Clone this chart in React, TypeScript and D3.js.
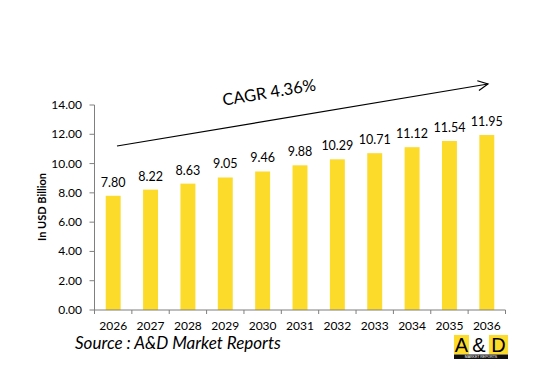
import React from "react";
import * as d3 from "d3";

const years = ["2026", "2027", "2028", "2029", "2030", "2031", "2032", "2033", "2034", "2035", "2036"];
const values = [7.8, 8.22, 8.63, 9.05, 9.46, 9.88, 10.29, 10.71, 11.12, 11.54, 11.95];
const yTicks = [0, 2, 4, 6, 8, 10, 12, 14];
const cagrLabel = "CAGR 4.36%";
const yTitle = "In USD Billion";
const sourceText = "Source : A&D Market Reports";

const W = 536;
const H = 381;
const FONT = "Lato, 'Open Sans', sans-serif";
const YELLOW = "#FDDB2B";

export default function App() {
  const left = 94.5, right = 505.5, top = 105, bottom = 310;
  const x = d3.scaleBand<string>().domain(years).range([left, right]).paddingInner(0.6).paddingOuter(0.3);
  const xb = d3.scaleBand<string>().domain(years).range([left, right]);
  const y = d3.scaleLinear().domain([0, 14]).range([bottom, top]);
  const boundaries = [left, ...years.map((yr) => (xb(yr) as number) + xb.bandwidth())];

  const ax1 = 117, ay1 = 146, ax2 = 488, ay2 = 84;
  const ang = (Math.atan2(ay2 - ay1, ax2 - ax1) * 180) / Math.PI;

  return (
    <svg width={W} height={H} style={{ position: "absolute", left: 0, top: 0, background: "#fff" }} fontFamily={FONT}>
      <rect x={0} y={0} width={W} height={H} fill="#fff" />
      {years.map((yr, i) => (
        <g key={yr}>
          <rect x={x(yr)} y={y(values[i])} width={x.bandwidth()} height={bottom - y(values[i])} fill={YELLOW} />
          <text x={(x(yr) as number) + x.bandwidth() / 2} y={y(values[i]) - 9} textAnchor="middle" fontSize={12.5} fill="#000">
            {values[i].toFixed(2)}
          </text>
          <text x={(xb(yr) as number) + xb.bandwidth() / 2} y={330} textAnchor="middle" fontSize={12} fill="#000">
            {yr}
          </text>
        </g>
      ))}
      <line x1={left} x2={left} y1={top} y2={bottom} stroke="#7f7f7f" strokeWidth={1} />
      {yTicks.map((t) => (
        <g key={t}>
          <line x1={left - 5} x2={left} y1={y(t)} y2={y(t)} stroke="#7f7f7f" />
          <text x={82} y={y(t) + 4} textAnchor="end" fontSize={12} fill="#000">
            {t.toFixed(2)}
          </text>
        </g>
      ))}
      <line x1={left} x2={right} y1={bottom} y2={bottom} stroke="#7f7f7f" />
      {boundaries.map((b, i) => (
        <line key={i} x1={b} x2={b} y1={bottom} y2={bottom + 4} stroke="#7f7f7f" />
      ))}
      <text transform={`translate(46,207) rotate(-90)`} textAnchor="middle" fontSize={11} fontWeight="bold" fill="#000">
        {yTitle}
      </text>
      <line x1={ax1} y1={ay1} x2={ax2} y2={ay2} stroke="#000" strokeWidth={1.2} />
      <g transform={`translate(${ax2},${ay2}) rotate(${ang})`}>
        <path d="M-10,-5 L0,0 L-10,5" fill="none" stroke="#000" strokeWidth={1.2} />
      </g>
      <text transform={`translate(270,98) rotate(${ang})`} textAnchor="middle" fontSize={16.5} fill="#000">
        {cagrLabel}
      </text>
      <text x={75} y={349} fontSize={17} fontStyle="italic" fill="#000">
        {sourceText}
      </text>
      <g fontFamily="'Liberation Sans', Arial, sans-serif">
        <rect x={454} y={335} width={15} height={19.5} fill={YELLOW} />
        <rect x={469} y={335} width={20} height={19.5} fill="#fff" />
        <rect x={489} y={335} width={19} height={19.5} fill={YELLOW} />
        <rect x={454} y={354.5} width={54} height={4.5} fill="#111" />
        <text x={461.5} y={352} textAnchor="middle" fontSize={20} fill="#000">A</text>
        <text x={479} y={352} textAnchor="middle" fontSize={20} fill="#000">&amp;</text>
        <text x={498.5} y={352} textAnchor="middle" fontSize={20} fill="#000">D</text>
        <text x={481} y={358.3} textAnchor="middle" fontSize={3.5} fill="#fff">MARKET REPORTS</text>
      </g>
    </svg>
  );
}
